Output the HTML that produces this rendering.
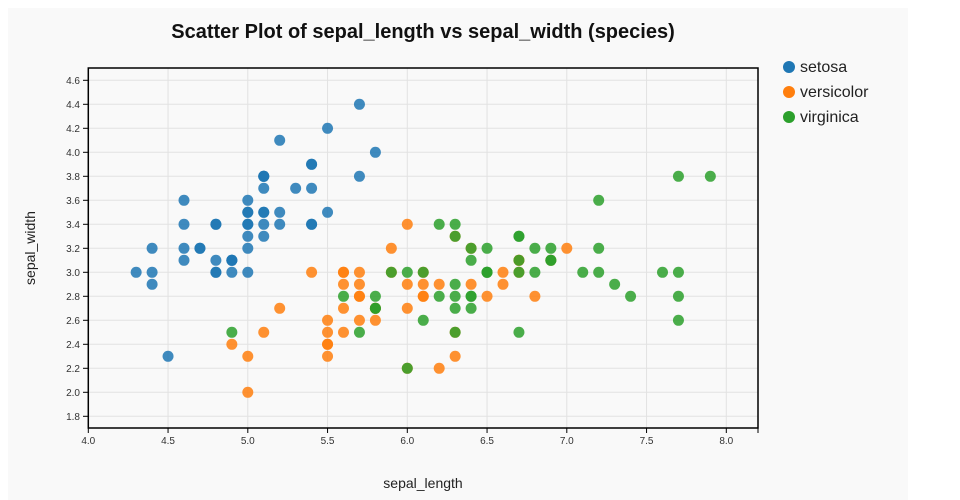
<!DOCTYPE html>
<html><head><meta charset="utf-8"><style>
html,body{margin:0;padding:0;background:#fff;}
svg{display:block;font-family:"Liberation Sans","DejaVu Sans",sans-serif;}
</style></head><body>
<svg id="s" width="960" height="500" xmlns="http://www.w3.org/2000/svg">
<rect x="8" y="8" width="900" height="492" fill="#f9f9f9"/>
<text x="423" y="38" text-anchor="middle" font-size="20" font-weight="bold" fill="#111">Scatter Plot of sepal_length vs sepal_width (species)</text>
<g id="grid"></g>
<g id="pts"></g>
<rect x="88.3" y="68" width="669.7" height="360" fill="none" stroke="#000" stroke-width="1.5"/>
<g id="ticks" font-size="10" fill="#333"></g>
<text x="423" y="488" text-anchor="middle" font-size="14" fill="#222">sepal_length</text>
<text transform="translate(35,248) rotate(-90)" text-anchor="middle" font-size="14" fill="#222">sepal_width</text>
<circle cx="789" cy="67" r="6" fill="#1f77b4"/><text x="800" y="72" font-size="16" fill="#222">setosa</text>
<circle cx="789" cy="92" r="6" fill="#ff7f0e"/><text x="800" y="97" font-size="16" fill="#222">versicolor</text>
<circle cx="789" cy="117" r="6" fill="#2ca02c"/><text x="800" y="122" font-size="16" fill="#222">virginica</text>
</svg>
<script>
var NS="http://www.w3.org/2000/svg";
function X(v){return 88.3+(v-4)*159.5;}
function Y(v){return 80.3+(4.6-v)*120;}
function el(p,t,a,txt){var e=document.createElementNS(NS,t);for(var k in a)e.setAttribute(k,a[k]);if(txt!==undefined)e.textContent=txt;document.getElementById(p).appendChild(e);}
for(var i=0;i<=8;i++){var v=4+i*0.5,x=X(v);
el("grid","line",{x1:x,x2:x,y1:68,y2:428,stroke:"#e2e2e2","stroke-width":1});
el("ticks","line",{x1:x,x2:x,y1:428,y2:433,stroke:"#000","stroke-width":1});
el("ticks","text",{x:x,y:444,"text-anchor":"middle"},v.toFixed(1));}
el("ticks","line",{x1:758,x2:758,y1:428,y2:433,stroke:"#000","stroke-width":1});
for(var j=0;j<=14;j++){var v=1.8+j*0.2,y=Y(v);
el("grid","line",{x1:88,x2:758,y1:y,y2:y,stroke:"#e2e2e2","stroke-width":1});
el("ticks","line",{x1:83,x2:88,y1:y,y2:y,stroke:"#000","stroke-width":1});
el("ticks","text",{x:80,y:y+3.5,"text-anchor":"end"},v.toFixed(1));}
var S="5.1,3.5 4.9,3.0 4.7,3.2 4.6,3.1 5.0,3.6 5.4,3.9 4.6,3.4 5.0,3.4 4.4,2.9 4.9,3.1 5.4,3.7 4.8,3.4 4.8,3.0 4.3,3.0 5.8,4.0 5.7,4.4 5.4,3.9 5.1,3.5 5.7,3.8 5.1,3.8 5.4,3.4 5.1,3.7 4.6,3.6 5.1,3.3 4.8,3.4 5.0,3.0 5.0,3.4 5.2,3.5 5.2,3.4 4.7,3.2 4.8,3.1 5.4,3.4 5.2,4.1 5.5,4.2 4.9,3.1 5.0,3.2 5.5,3.5 4.9,3.1 4.4,3.0 5.1,3.4 5.0,3.5 4.5,2.3 4.4,3.2 5.0,3.5 5.1,3.8 4.8,3.0 5.1,3.8 4.6,3.2 5.3,3.7 5.0,3.3";
var V="7.0,3.2 6.4,3.2 6.9,3.1 5.5,2.3 6.5,2.8 5.7,2.8 6.3,3.3 4.9,2.4 6.6,2.9 5.2,2.7 5.0,2.0 5.9,3.0 6.0,2.2 6.1,2.9 5.6,2.9 6.7,3.1 5.6,3.0 5.8,2.7 6.2,2.2 5.6,2.5 5.9,3.2 6.1,2.8 6.3,2.5 6.1,2.8 6.4,2.9 6.6,3.0 6.8,2.8 6.7,3.0 6.0,2.9 5.7,2.6 5.5,2.4 5.5,2.4 5.8,2.7 6.0,2.7 5.4,3.0 6.0,3.4 6.7,3.1 6.3,2.3 5.6,3.0 5.5,2.5 5.5,2.6 6.1,3.0 5.8,2.6 5.0,2.3 5.6,2.7 5.7,3.0 5.7,2.9 6.2,2.9 5.1,2.5 5.7,2.8";
var G="6.3,3.3 5.8,2.7 7.1,3.0 6.3,2.9 6.5,3.0 7.6,3.0 4.9,2.5 7.3,2.9 6.7,2.5 7.2,3.6 6.5,3.2 6.4,2.7 6.8,3.0 5.7,2.5 5.8,2.8 6.4,3.2 6.5,3.0 7.7,3.8 7.7,2.6 6.0,2.2 6.9,3.2 5.6,2.8 7.7,2.8 6.3,2.7 6.7,3.3 7.2,3.2 6.2,2.8 6.1,3.0 6.4,2.8 7.2,3.0 7.4,2.8 7.9,3.8 6.4,2.8 6.3,2.8 6.1,2.6 7.7,3.0 6.3,3.4 6.4,3.1 6.0,3.0 6.9,3.1 6.7,3.1 6.9,3.1 5.8,2.7 6.8,3.2 6.7,3.3 6.7,3.0 6.3,2.5 6.5,3.0 6.2,3.4 5.9,3.0";
[[S,"#1f77b4"],[V,"#ff7f0e"],[G,"#2ca02c"]].forEach(function(d){
d[0].split(" ").forEach(function(p){var a=p.split(",");
el("pts","circle",{cx:X(+a[0]),cy:Y(+a[1]),r:5.5,fill:d[1],"fill-opacity":0.85});});});
</script>
</body></html>
